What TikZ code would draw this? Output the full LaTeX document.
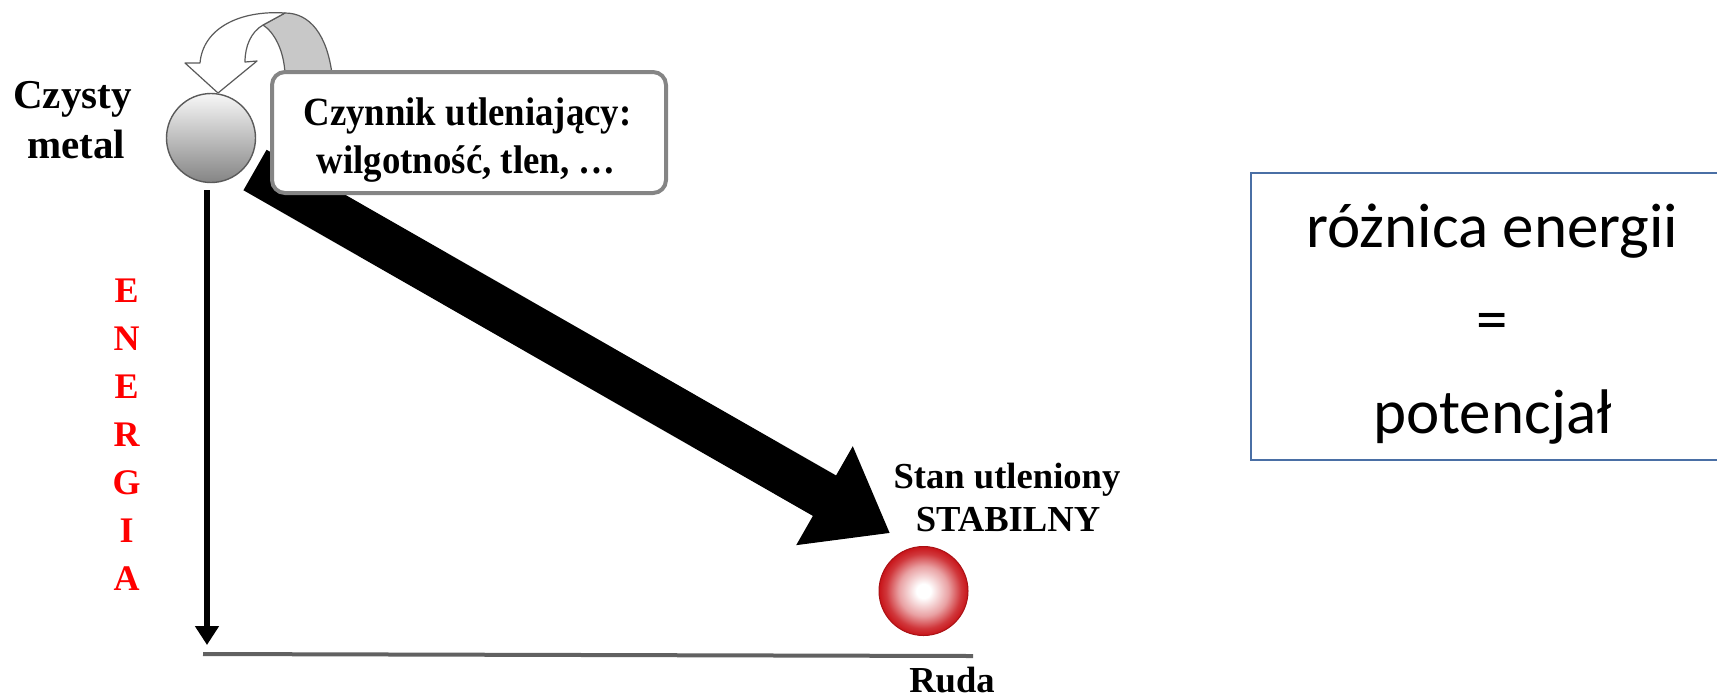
\documentclass[tikz,border=0pt]{standalone}
\usepackage{fontspec}
\usetikzlibrary{calc,arrows.meta}

\newfontfamily\labelfont{Liberation Serif}
\newfontfamily\calloutfont{Liberation Serif}[FakeStretch=0.92]
\newfontfamily\notefont{Carlito}

\definecolor{outlinegrey}{HTML}{5A5A5A}
\definecolor{bandgrey}{HTML}{C8C8C8}
\definecolor{calloutgrey}{HTML}{858585}
\definecolor{ballred}{RGB}{200,20,25}
\definecolor{boxblue}{RGB}{74,111,165}
\definecolor{energred}{RGB}{255,0,0}

\pgfdeclareradialshading{oreshade}{\pgfpoint{0bp}{0bp}}{%
  color(0bp)=(white); color(4bp)=(white); color(14bp)=(ballred!40!white);
  color(21bp)=(ballred!85!white); color(25bp)=(ballred); color(50bp)=(ballred)}

\tikzset{
  metalball/.style={circle, inner sep=0pt, minimum size=44.5pt,
    top color=black!3, middle color=black!17, bottom color=black!48,
    draw=outlinegrey, line width=0.7pt},
  oreball/.style={circle, inner sep=0pt, minimum size=44.5pt,
    shading=oreshade, draw=ballred!85!black, line width=0.5pt},
  callout/.style={rectangle, rounded corners=6.5pt, draw=calloutgrey,
    line width=2pt, fill=white, minimum width=197pt, minimum height=60.5pt,
    inner sep=0pt},
  calltext/.style={anchor=base, inner sep=0pt,
    font=\calloutfont\bfseries\fontsize{20pt}{24pt}\selectfont},
  biglabel/.style={anchor=base, inner sep=0pt,
    font=\labelfont\bfseries\fontsize{20.5pt}{24pt}\selectfont},
  smalllabel/.style={anchor=base, inner sep=0pt,
    font=\labelfont\bfseries\fontsize{18.3pt}{22pt}\selectfont},
  energylabel/.style={anchor=north, inner sep=0pt, align=center, text=energred,
    font=\labelfont\bfseries\fontsize{18pt}{24pt}\selectfont},
  notebox/.style={rectangle, draw=boxblue, line width=0.75pt, inner sep=0pt,
    minimum width=241.5pt, minimum height=143.5pt},
  notetext/.style={inner sep=0pt, align=center,
    font=\notefont\fontsize{31.5pt}{46.5pt}\selectfont},
  axisline/.style={line width=3pt, -{Triangle[width=11.5pt,length=9.5pt]}},
  groundline/.style={line width=2pt, draw=black!62},
}

\begin{document}
\begin{tikzpicture}[x=0.5pt,y=-0.5pt]
\useasboundingbox (0,0) rectangle (1717,698);

% circular arrow above the metal ball: grey back band, white front with head
\filldraw[fill=bandgrey, draw=outlinegrey, line width=0.6pt, line join=round]
  (285,13) .. controls (310,13) and (327,35) .. (332,74) -- (285,74)
  .. controls (284,50) and (274,32) .. (263,25) -- cycle;
\filldraw[fill=white, draw=outlinegrey, line width=0.6pt, line join=round]
  (285,13) .. controls (240,10) and (203,28) .. (200,63) -- (185,63)
  -- (218,93) -- (257,61) -- (245,62)
  .. controls (245,46) and (251,32) .. (263,25) -- cycle;

% pure metal ball
\node[metalball] (metal) at (211,138) {};

% broad black arrow towards the oxidised state
\coordinate (bigS) at (255,170);
\coordinate (bigT) at (889.6,532.9);
\coordinate (bigB) at ($(bigT)!37.5pt!(bigS)$);
\fill[black]
  ($(bigS)!11.65pt!90:(bigT)$) -- ($(bigB)!11.65pt!90:(bigT)$)
  -- ($(bigB)!28.5pt!90:(bigT)$) -- (bigT)
  -- ($(bigB)!28.5pt!-90:(bigT)$) -- ($(bigB)!11.65pt!-90:(bigT)$)
  -- ($(bigS)!11.65pt!-90:(bigT)$) -- cycle;

% oxidising agent callout
\node[callout] (agent) at (469,132.5) {};
\node[calltext] (agentA) at (467.5,125) {Czynnik utleniający:};
\node[calltext] (agentB) at (466,173) {wilgotność, tlen, …};

% left labels
\node[biglabel] (pureA) at (72.5,108) {Czysty};
\node[biglabel] (pureB) at (76,158) {metal};
\node[energylabel] (energy) at (126.7,279) {E\\N\\E\\R\\G\\I\\A};

% energy axis and ground line
\coordinate (ytop) at (207,190);
\coordinate (ybot) at (207,645);
\draw[axisline] (ytop) -- (ybot);
\coordinate (xleft) at (203,654);
\coordinate (xright) at (973,656);
\draw[groundline] (xleft) -- (xright);

% oxidised ore ball and its labels
\node[oreball] (ore) at (923.5,591) {};
\node[smalllabel] (stateA) at (1007,488) {Stan utleniony};
\node[smalllabel] (stateB) at (1008,531) {STABILNY};
\node[smalllabel] (ruda) at (952,692) {Ruda};

% note box, running off the right edge
\node[notebox] (note) at (1492.5,316.5) {};
\node[notetext] (notetxt) at (1492.5,324) {różnica energii\\=\\potencjał};
\end{tikzpicture}
\end{document}
